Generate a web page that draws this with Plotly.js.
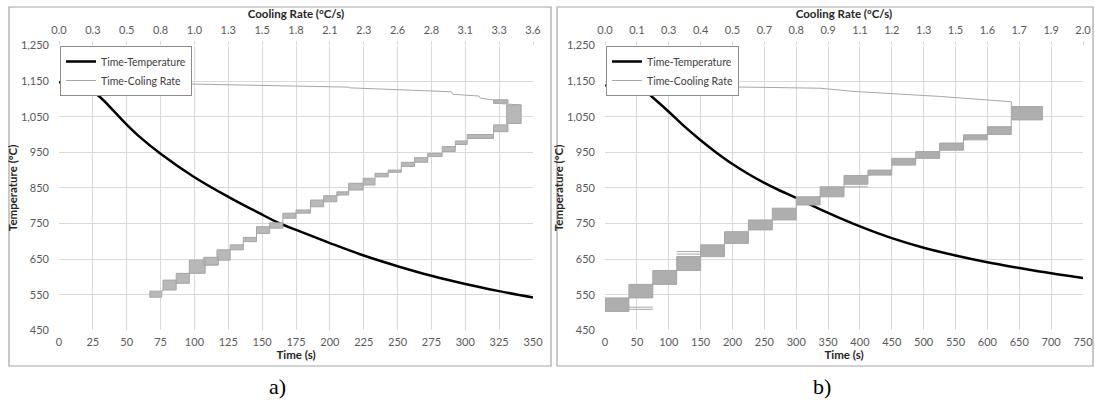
<!DOCTYPE html>
<html><head><meta charset="utf-8">
<script src="https://cdn.plot.ly/plotly-3.0.1.min.js"></script>
<style>html,body{margin:0;padding:0;background:#fff;}#chart{width:1095px;height:400px;}</style>
</head><body><div id="chart"></div>
<script>
// ---------- Panel a) ----------
const timeA = [0, 10, 20, 30, 40, 50, 60, 75, 100, 125, 150, 163, 175, 200, 225, 250, 275, 300, 325, 350];
const tempA = [1147, 1144, 1133, 1106, 1068, 1028, 992, 946, 880, 825, 775, 750, 732, 695, 660, 630, 603, 580, 560, 542];
const rateLineA = [0.30, 1.00, 1.60, 2.20, 2.21, 2.98, 2.99, 3.19, 3.20, 3.30];
const rateLineTempA = [1147, 1142, 1138, 1133, 1131, 1120, 1113, 1108, 1102, 1097];
const bandRateLoA = [3.30,3.40,3.30,3.10,3.01,2.91,2.80,2.70,2.60,2.50,2.40,2.31,2.20,2.11,2.01,1.91,1.80,1.70,1.60,1.50,1.40,1.30,1.20,1.10,0.99,0.89,0.79,0.69];
const bandRateHiA = [3.41,3.51,3.41,3.30,3.10,3.01,2.91,2.80,2.70,2.60,2.50,2.40,2.31,2.20,2.11,2.01,1.91,1.80,1.70,1.60,1.50,1.40,1.30,1.21,1.11,0.99,0.89,0.78];
const bandTempLoA = [1088,1031,1008,989,972,952,938,922,910,894,881,858,844,830,811,797,779,765,737,722,699,676,647,633,610,582,563,543];
const bandTempHiA = [1097,1083,1027,1000,982,966,947,935,922,900,891,877,863,839,828,816,788,779,752,741,711,690,676,655,647,610,591,560];
const rateTickLabelsA = ['0.0','0.3','0.5','0.8','1.0','1.3','1.5','1.8','2.1','2.3','2.6','2.8','3.1','3.3','3.6'];

// ---------- Panel b) ----------
const timeB = [0, 25, 50, 60, 75, 100, 125, 150, 175, 200, 225, 250, 275, 300, 350, 400, 450, 500, 550, 600, 650, 700, 750];
const tempB = [1138, 1136, 1132, 1126, 1104, 1064, 1022, 984, 949, 917, 889, 864, 842, 822, 780, 742, 709, 682, 660, 641, 625, 610, 597];
const rateLineB = [0.00, 0.50, 0.90, 1.04, 1.18, 1.30, 1.40, 1.50, 1.60, 1.70, 1.70];
const rateLineTempB = [1139, 1134, 1130, 1121, 1116, 1111, 1107, 1102, 1097, 1092, 1078];
const bandRateLoB = [1.70,1.60,1.50,1.40,1.30,1.20,1.10,1.00,0.90,0.80,0.70,0.60,0.50,0.40,0.30,0.20,0.10,0.00];
const bandRateHiB = [1.83,1.70,1.60,1.50,1.40,1.30,1.20,1.10,1.00,0.90,0.80,0.70,0.60,0.50,0.40,0.30,0.20,0.10];
const bandTempLoB = [1041,1000,985,956,933,914,886,860,825,802,760,732,694,657,618,579,541,503];
const bandTempHiB = [1078,1022,999,976,952,933,900,885,853,825,793,760,727,690,657,618,579,541];
const strayRateLoB = [0.10, 0.10, 0.30, 0.30, 1.00];
const strayRateHiB = [0.20, 0.20, 0.40, 0.40, 1.10];
const strayTempB = [515, 509, 671, 664, 853];
const rateTickLabelsB = ['0.0','0.1','0.3','0.4','0.5','0.7','0.8','0.9','1.1','1.2','1.3','1.5','1.6','1.7','1.9','2.0'];

// ---------- helpers ----------
function stairPath(lr, lt, lo, hi, tlo, thi) {
  const x = lr.slice(), y = lt.slice();
  for (let i = 0; i < lo.length; i++) { x.push(hi[i], lo[i]); y.push(thi[i], tlo[i]); }
  return {x, y};
}
function bandPolys(lo, hi, tlo, thi) {
  const x = [], y = [];
  for (let i = 0; i < lo.length; i++) {
    x.push(lo[i], hi[i], hi[i], lo[i], lo[i], null);
    y.push(tlo[i], tlo[i], thi[i], thi[i], tlo[i], null);
  }
  return {x, y};
}
function segs(lo, hi, t) {
  const x = [], y = [];
  for (let i = 0; i < lo.length; i++) { x.push(lo[i], hi[i], null); y.push(t[i], t[i], null); }
  return {x, y};
}
function tickPos(labels, max) { return labels.map((_, i) => i * max / (labels.length - 1)); }

const GRAY = '#a6a6a6';
const pathA = stairPath(rateLineA, rateLineTempA, bandRateLoA, bandRateHiA, bandTempLoA, bandTempHiA);
const polyA = bandPolys(bandRateLoA, bandRateHiA, bandTempLoA, bandTempHiA);
const pathB = stairPath(rateLineB, rateLineTempB, bandRateLoB, bandRateHiB, bandTempLoB, bandTempHiB);
const polyB = bandPolys(bandRateLoB, bandRateHiB, bandTempLoB, bandTempHiB);
const strB = segs(strayRateLoB, strayRateHiB, strayTempB);

const traces = [
  {x: pathA.x, y: pathA.y, xaxis: 'x2', yaxis: 'y', mode: 'lines', name: 'Time-Coling Rate',
   line: {color: GRAY, width: 1}, legend: 'legend', legendrank: 2},
  {x: polyA.x, y: polyA.y, xaxis: 'x2', yaxis: 'y', mode: 'lines', fill: 'toself',
   fillcolor: '#b8b8b8', line: {color: GRAY, width: 1}, showlegend: false, hoverinfo: 'skip'},
  {x: timeA, y: tempA, xaxis: 'x', yaxis: 'y', mode: 'lines', name: 'Time-Temperature',
   line: {color: '#000', width: 2.5, shape: 'spline', smoothing: 1}, legend: 'legend', legendrank: 1},

  {x: pathB.x, y: pathB.y, xaxis: 'x4', yaxis: 'y2', mode: 'lines', name: 'Time-Cooling Rate',
   line: {color: GRAY, width: 1}, legend: 'legend2', legendrank: 2},
  {x: polyB.x, y: polyB.y, xaxis: 'x4', yaxis: 'y2', mode: 'lines', fill: 'toself',
   fillcolor: '#aeaeae', line: {color: GRAY, width: 1}, showlegend: false, hoverinfo: 'skip'},
  {x: strB.x, y: strB.y, xaxis: 'x4', yaxis: 'y2', mode: 'lines',
   line: {color: GRAY, width: 1}, showlegend: false, hoverinfo: 'skip'},
  {x: timeB, y: tempB, xaxis: 'x3', yaxis: 'y2', mode: 'lines', name: 'Time-Temperature',
   line: {color: '#000', width: 2.5, shape: 'spline', smoothing: 1}, legend: 'legend2', legendrank: 1}
];

const W = 1095, H = 400;
const px = v => v / W, py = v => 1 - v / H;
const FONT = 'Lato, "Open Sans", sans-serif';
const tickFont = {family: FONT, size: 11, color: '#595959'};
const titleFont = {family: FONT, size: 11.5, color: '#262626'};
const GRID = '#d9d9d9';
const yDom = [py(330.3), py(45.5)];

function timeAxis(dom, anchor, max, dt) {
  return {domain: dom, anchor: anchor, range: [0, max], tick0: 0, dtick: dt, showgrid: true, gridcolor: GRID,
    gridwidth: 1, zeroline: false, showline: false, ticks: '', tickfont: tickFont, ticklabelstandoff: 4,
    title: {text: '<b>Time (s)</b>', font: titleFont, standoff: 0}, fixedrange: true};
}
function rateAxis(over, anchor, max, labels) {
  return {overlaying: over, side: 'top', anchor: anchor, range: [0, max], tickmode: 'array',
    tickvals: tickPos(labels, max), ticktext: labels, showgrid: false, zeroline: false, showline: false,
    ticks: 'outside', ticklen: 4, tickcolor: GRID, tickfont: tickFont, ticklabelstandoff: 2,
    title: {text: '<b>Cooling Rate (°C/s)</b>', font: titleFont, standoff: 2}, fixedrange: true};
}
function tempAxis(anchor) {
  return {domain: yDom, anchor: anchor, range: [450, 1250], tick0: 450, dtick: 100, tickformat: ',d',
    showgrid: true, gridcolor: GRID, zeroline: false, showline: false, ticks: '', tickfont: tickFont,
    ticklabelstandoff: 9, title: {text: '<b>Temperature (°C)</b>', font: titleFont, standoff: 0}, fixedrange: true};
}
const legendStyle = {font: {family: FONT, size: 10.5, color: '#404040'}, bgcolor: '#fff', bordercolor: '#8c8c8c',
  borderwidth: 1, xanchor: 'left', yanchor: 'top', itemwidth: 30, traceorder: 'normal', tracegroupgap: 0};

const layout = {
  width: W, height: H, margin: {l: 0, r: 0, t: 0, b: 0}, paper_bgcolor: '#fff', plot_bgcolor: '#fff',
  font: {family: FONT},
  xaxis: timeAxis([px(59), px(533)], 'y', 350, 25),
  xaxis2: rateAxis('x', 'y', 3.6, rateTickLabelsA),
  yaxis: tempAxis('x'),
  xaxis3: timeAxis([px(605), px(1083)], 'y2', 750, 50),
  xaxis4: rateAxis('x3', 'y2', 2.0, rateTickLabelsB),
  yaxis2: tempAxis('x3'),
  legend: Object.assign({x: px(60), y: py(46)}, legendStyle),
  legend2: Object.assign({x: px(606), y: py(46)}, legendStyle),
  shapes: [
    {type: 'rect', xref: 'paper', yref: 'paper', x0: px(9), x1: px(551), y0: py(366), y1: py(7),
     line: {color: '#a6a6a6', width: 1.2}},
    {type: 'rect', xref: 'paper', yref: 'paper', x0: px(557), x1: px(1093), y0: py(366), y1: py(7),
     line: {color: '#a6a6a6', width: 1.2}}
  ],
  annotations: [
    {text: 'a)', xref: 'paper', yref: 'paper', x: px(277), y: py(386), xanchor: 'center', yanchor: 'middle',
     showarrow: false, font: {family: '"Liberation Serif", "Times New Roman", serif', size: 22, color: '#000'}},
    {text: 'b)', xref: 'paper', yref: 'paper', x: px(822), y: py(386), xanchor: 'center', yanchor: 'middle',
     showarrow: false, font: {family: '"Liberation Serif", "Times New Roman", serif', size: 22, color: '#000'}}
  ]
};
Plotly.newPlot('chart', traces, layout, {staticPlot: true, displayModeBar: false});
</script></body></html>
